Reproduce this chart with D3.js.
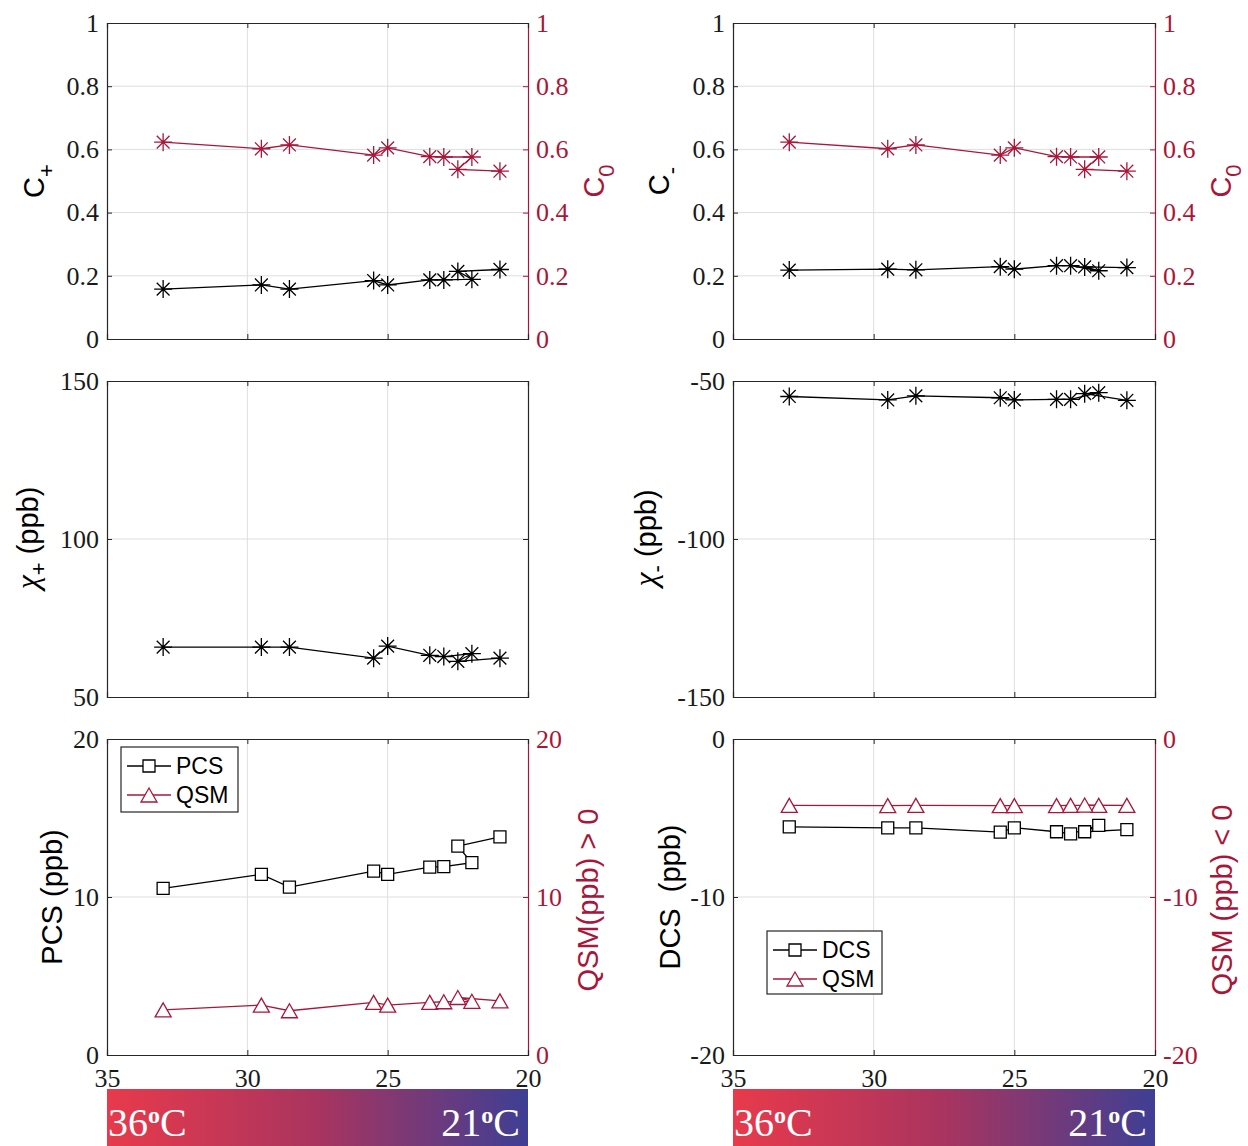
<!DOCTYPE html>
<html>
<head>
<meta charset="utf-8">
<script src="https://cdn.jsdelivr.net/npm/d3@7"></script>
<style>
  body { margin: 0; background: #fff; }
  svg { display: block; }
  .tick text { font-family: 'Liberation Serif', 'Times New Roman', serif; }
</style>
</head>
<body>
<svg id="fig" width="1248" height="1146"></svg>
<script>
// Bath temperature (°C) of each acquisition, in the order the points were measured
const temps = [33, 29.5, 28.5, 25.5, 25, 23.5, 23, 22, 22.5, 21];

// Component fractions
const cPlus  = [0.158, 0.171, 0.158, 0.185, 0.171, 0.187, 0.187, 0.189, 0.214, 0.220];
const cMinus = [0.218, 0.221, 0.219, 0.229, 0.221, 0.232, 0.232, 0.216, 0.228, 0.226];
const cZero  = [0.623, 0.602, 0.614, 0.582, 0.605, 0.577, 0.576, 0.576, 0.537, 0.531];

// Susceptibility of each component (ppb)
const chiPlus  = [65.8, 65.8, 65.8, 62.3, 66.1, 63.2, 62.8, 63.7, 61.3, 62.3];
const chiMinus = [-54.9, -56.0, -54.7, -55.3, -56.0, -55.8, -55.8, -53.7, -54.0, -56.1];

// Para/diamagnetic component susceptibility vs. QSM (ppb)
const pcs    = [10.55, 11.43, 10.63, 11.64, 11.43, 11.89, 11.92, 12.17, 13.22, 13.81];
const qsmPos = [2.86, 3.16, 2.80, 3.33, 3.16, 3.33, 3.37, 3.40, 3.64, 3.43];
const dcs    = [-5.56, -5.62, -5.62, -5.89, -5.62, -5.87, -6.00, -5.47, -5.87, -5.73];
const qsmNeg = [-4.20, -4.22, -4.20, -4.22, -4.22, -4.22, -4.20, -4.20, -4.18, -4.20];

// Axis ticks
const xTicks = [35, 30, 25, 20];
const fracTicks = [0, 0.2, 0.4, 0.6, 0.8, 1];
const chiPlusTicks = [50, 100, 150];
const chiMinusTicks = [-150, -100, -50];
const posTicks = [0, 10, 20];
const negTicks = [-20, -10, 0];

// Temperature colour bar end labels
const tempLabels = ["36", "21"];

const RED = "#a8173a";
const SERIF = "'Liberation Serif', 'Times New Roman', serif";
const SANS = "'Liberation Sans', Arial, Helvetica, sans-serif";
const GRID = "#dedede";
const AXIS = "#262626";

const svg = d3.select("#fig");

const markers = {
  star: "M-9,0H9M0,-9V9M-6.4,-6.4L6.4,6.4M-6.4,6.4L6.4,-6.4",
  square: "M-6,-6H6V6H-6Z",
  triangle: "M0,-7L8,7H-8Z"
};

function fmt(v) {
  return String(v).replace("−", "-");
}

function styleTicks(sel, color) {
  sel.attr("font-family", SERIF).attr("font-size", 26);
  sel.selectAll(".tick text")
    .attr("font-family", SERIF).style("font-family", SERIF)
    .attr("font-size", 26).attr("fill", color);
}

function drawPanel(cfg) {
  const g = svg.append("g");
  const x = d3.scaleLinear().domain([35, 20]).range([cfg.x0, cfg.x1]);
  const y = d3.scaleLinear().domain(cfg.yDomain).range([cfg.y1, cfg.y0]);
  const yR = cfg.rDomain ? d3.scaleLinear().domain(cfg.rDomain).range([cfg.y1, cfg.y0]) : null;

  // grid
  g.append("g").selectAll("line").data(xTicks.slice(1, -1)).join("line")
    .attr("x1", d => x(d)).attr("x2", d => x(d))
    .attr("y1", cfg.y0).attr("y2", cfg.y1)
    .attr("stroke", GRID).attr("stroke-width", 1);
  g.append("g").selectAll("line").data(cfg.yTicks.slice(1, -1)).join("line")
    .attr("x1", cfg.x0).attr("x2", cfg.x1)
    .attr("y1", d => y(d)).attr("y2", d => y(d))
    .attr("stroke", GRID).attr("stroke-width", 1);

  // left axis
  const left = g.append("g").attr("transform", `translate(${cfg.x0},0)`)
    .call(d3.axisLeft(y).tickValues(cfg.yTicks).tickSize(-5).tickPadding(8).tickFormat(fmt));
  left.select(".domain").attr("stroke", AXIS).attr("stroke-width", 1.2);
  left.selectAll(".tick line").attr("stroke", AXIS);
  styleTicks(left, "#1a1a1a");

  // right axis
  const rScale = yR || y;
  const rColor = yR ? RED : AXIS;
  const right = g.append("g").attr("transform", `translate(${cfg.x1},0)`)
    .call(d3.axisRight(rScale).tickValues(yR ? cfg.rTicks : cfg.yTicks).tickSize(-5).tickPadding(8).tickFormat(fmt));
  right.select(".domain").attr("stroke", rColor).attr("stroke-width", 1.2);
  right.selectAll(".tick line").attr("stroke", rColor);
  if (yR) {
    styleTicks(right, RED);
  } else {
    right.selectAll(".tick text").remove();
  }

  // top axis (box)
  const top = g.append("g").attr("transform", `translate(0,${cfg.y0})`)
    .call(d3.axisTop(x).tickValues(xTicks).tickSize(-5).tickFormat(""));
  top.select(".domain").attr("stroke", AXIS).attr("stroke-width", 1.2);
  top.selectAll(".tick line").attr("stroke", AXIS);

  // bottom axis
  const bottom = g.append("g").attr("transform", `translate(0,${cfg.y1})`)
    .call(d3.axisBottom(x).tickValues(xTicks).tickSize(-5).tickPadding(14)
      .tickFormat(cfg.xLabels ? d3.format("d") : ""));
  bottom.select(".domain").attr("stroke", AXIS).attr("stroke-width", 1.2);
  bottom.selectAll(".tick line").attr("stroke", AXIS);
  styleTicks(bottom, "#1a1a1a");

  // series
  cfg.series.forEach(s => {
    const sc = s.right ? yR : y;
    const pts = temps.map((t, i) => [x(t), sc(s.values[i])]);
    g.append("path")
      .attr("d", d3.line()(pts))
      .attr("fill", "none").attr("stroke", s.color).attr("stroke-width", 1.3);
    g.append("g").selectAll("path").data(pts).join("path")
      .attr("transform", d => `translate(${d[0]},${d[1]})`)
      .attr("d", markers[s.marker])
      .attr("fill", s.marker === "star" ? "none" : "#fff")
      .attr("stroke", s.color).attr("stroke-width", 1.3);
  });

  // legend
  if (cfg.legend) {
    const L = cfg.legend;
    const lg = g.append("g").attr("transform", `translate(${L.x},${L.y})`);
    lg.append("rect").attr("width", L.w).attr("height", L.h)
      .attr("fill", "#fff").attr("stroke", AXIS).attr("stroke-width", 1.2);
    cfg.series.forEach((s, i) => {
      const cy = 19 + i * 29;
      lg.append("line").attr("x1", 6).attr("x2", 50).attr("y1", cy).attr("y2", cy)
        .attr("stroke", s.color).attr("stroke-width", 1.3);
      lg.append("path").attr("transform", `translate(28,${cy})`).attr("d", markers[s.marker])
        .attr("fill", "#fff").attr("stroke", s.color).attr("stroke-width", 1.3);
      lg.append("text").attr("x", 55).attr("y", cy + 8).text(s.name)
        .attr("font-family", SANS).attr("font-size", 23).attr("fill", "#000");
    });
  }

  // axis titles
  cfg.titles.forEach(t => {
    const tx = g.append("text")
      .attr("transform", `translate(${t.x},${t.y}) rotate(-90)`)
      .attr("text-anchor", "middle")
      .attr("fill", t.color || "#000")
      .attr("font-family", SANS).attr("font-size", t.size || 29)
      .style("white-space", "pre");
    t.parts.forEach(p => {
      const ts = tx.append("tspan").text(p.text);
      if (p.serif) ts.style("font-family", SERIF).attr("font-style", "italic").attr("font-size", 32);
      if (p.dy) ts.attr("dy", p.dy);
      if (p.size) ts.attr("font-size", p.size);
    });
  });

  return x;
}

const colL = { x0: 107, x1: 528 };
const colR = { x0: 733, x1: 1155 };
const rowT = { y0: 23, y1: 339 };
const rowM = { y0: 381, y1: 697 };
const rowB = { y0: 739, y1: 1055 };

// Row 1: component fractions
drawPanel({ ...colL, ...rowT, yDomain: [0, 1], yTicks: fracTicks, rDomain: [0, 1], rTicks: fracTicks,
  series: [
    { values: cPlus, color: "#000", marker: "star" },
    { values: cZero, color: RED, marker: "star", right: true }
  ],
  titles: [
    { x: 44, y: 181, parts: [{ text: "C" }, { text: "+", dy: 10, size: 22 }] },
    { x: 604, y: 181, color: RED, parts: [{ text: "C" }, { text: "0", dy: 10, size: 22 }] }
  ]
});
drawPanel({ ...colR, ...rowT, yDomain: [0, 1], yTicks: fracTicks, rDomain: [0, 1], rTicks: fracTicks,
  series: [
    { values: cMinus, color: "#000", marker: "star" },
    { values: cZero, color: RED, marker: "star", right: true }
  ],
  titles: [
    { x: 669, y: 181, parts: [{ text: "C" }, { text: "-", dy: 10, size: 22 }] },
    { x: 1231, y: 181, color: RED, parts: [{ text: "C" }, { text: "0", dy: 10, size: 22 }] }
  ]
});

// Row 2: component susceptibilities
drawPanel({ ...colL, ...rowM, yDomain: [50, 150], yTicks: chiPlusTicks,
  series: [{ values: chiPlus, color: "#000", marker: "star" }],
  titles: [
    { x: 38, y: 538, parts: [{ text: "χ", serif: true }, { text: "+", dy: 8, size: 22 }, { text: " (ppb)", dy: -8 }] }
  ]
});
drawPanel({ ...colR, ...rowM, yDomain: [-150, -50], yTicks: chiMinusTicks,
  series: [{ values: chiMinus, color: "#000", marker: "star" }],
  titles: [
    { x: 656, y: 538, parts: [{ text: "χ", serif: true }, { text: "-", dy: 8, size: 22 }, { text: " (ppb)", dy: -8 }] }
  ]
});

// Row 3: PCS/DCS against QSM
drawPanel({ ...colL, ...rowB, yDomain: [0, 20], yTicks: posTicks, rDomain: [0, 20], rTicks: posTicks, xLabels: true,
  series: [
    { name: "PCS", values: pcs, color: "#000", marker: "square" },
    { name: "QSM", values: qsmPos, color: RED, marker: "triangle", right: true }
  ],
  legend: { x: 121, y: 747, w: 117, h: 65 },
  titles: [
    { x: 62, y: 897, parts: [{ text: "PCS (ppb)" }] },
    { x: 598, y: 900, color: RED, parts: [{ text: "QSM(ppb) > 0" }] }
  ]
});
drawPanel({ ...colR, ...rowB, yDomain: [-20, 0], yTicks: negTicks, rDomain: [-20, 0], rTicks: negTicks, xLabels: true,
  series: [
    { name: "DCS", values: dcs, color: "#000", marker: "square" },
    { name: "QSM", values: qsmNeg, color: RED, marker: "triangle", right: true }
  ],
  legend: { x: 767, y: 931, w: 115, h: 63 },
  titles: [
    { x: 680, y: 897, parts: [{ text: "DCS  (ppb)" }] },
    { x: 1232, y: 900, color: RED, parts: [{ text: "QSM (ppb) < 0" }] }
  ]
});

// Temperature colour bars under each column
const defs = svg.append("defs");
const grad = defs.append("linearGradient").attr("id", "tempGrad").attr("x1", "0%").attr("x2", "100%");
grad.append("stop").attr("offset", "0%").attr("stop-color", "#e83a4b");
grad.append("stop").attr("offset", "50%").attr("stop-color", "#a9345f");
grad.append("stop").attr("offset", "100%").attr("stop-color", "#3e3f94");

[colL, colR].forEach(c => {
  const bar = svg.append("g");
  bar.append("rect").attr("x", c.x0).attr("y", 1089).attr("width", c.x1 - c.x0).attr("height", 57)
    .attr("fill", "url(#tempGrad)");
  [[c.x0 + 1, "start", tempLabels[0]], [c.x1 - 8, "end", tempLabels[1]]].forEach(([tx, anchor, lab]) => {
    const t = bar.append("text").attr("x", tx).attr("y", 1136).attr("text-anchor", anchor)
      .attr("font-family", SERIF).attr("font-size", 40).attr("fill", "#fff");
    t.append("tspan").text(lab);
    t.append("tspan").text("o").attr("font-size", 24).attr("font-weight", "bold").attr("dy", -13);
    t.append("tspan").text("C").attr("dy", 13);
  });
});
</script>
</body>
</html>
